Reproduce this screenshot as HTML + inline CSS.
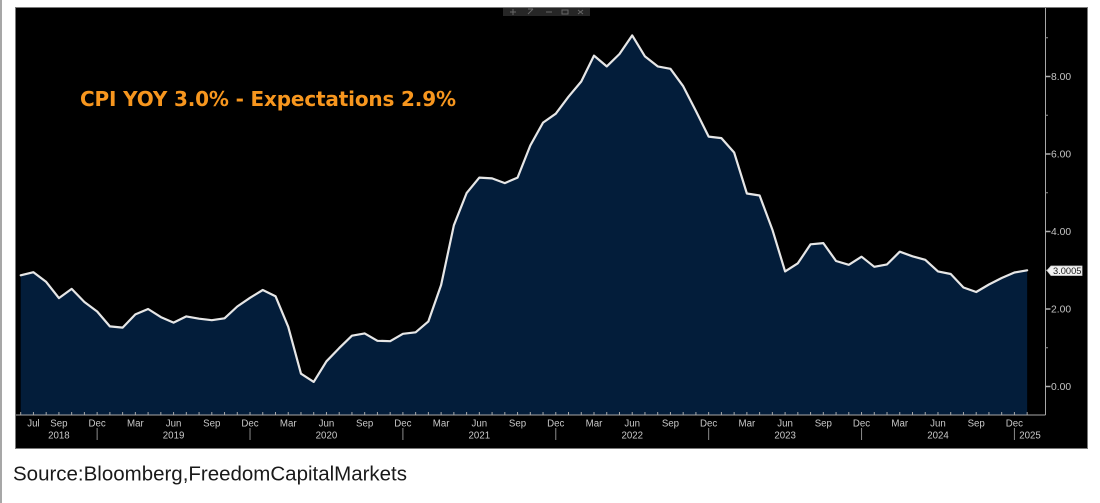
<!DOCTYPE html>
<html>
<head>
<meta charset="utf-8">
<style>
  html,body{margin:0;padding:0;background:#fff;}
  svg{display:block;}
</style>
</head>
<body>
<svg width="1100" height="503" viewBox="0 0 1100 503" xmlns="http://www.w3.org/2000/svg">
  <rect x="0" y="0" width="1100" height="503" fill="#ffffff"/>
  <line x1="1" y1="0" x2="1" y2="503" stroke="#8a8a8a" stroke-width="1.5"/>
  <!-- black chart box -->
  <rect x="15.5" y="7.5" width="1072" height="441" fill="#000000" stroke="#7a7a7a" stroke-width="1"/>
  <!-- toolbar -->
  <rect x="503" y="8" width="87" height="8" fill="#262626"/>
  <g stroke="#666" stroke-width="1" fill="none">
    <path d="M510 12 h6 M513 9 v6"/>
    <path d="M528 14 l5 -5 M528 9 h5"/>
    <path d="M546 12 h6"/>
    <path d="M562 10 h6 v4 h-6 z"/>
    <path d="M578 10 l5 4 M583 10 l-5 4"/>
  </g>

  <!-- area fill -->
  <path fill="#031d3a" d="M20.7,415 L20.7,275.3 L33.44,272.2 L46.18,281.9 L58.92,298.1 L71.66,288.9 L84.4,302 L97.14,311.5 L109.88,326.4 L122.62,327.6 L135.36,314.4 L148.1,309 L160.84,317.1 L173.58,322.6 L186.32,316.4 L199.06,318.7 L211.8,320.2 L224.54,318.3 L237.28,306.5 L250.02,297.8 L262.76,290 L275.5,296.2 L288.24,326.8 L300.98,373.7 L313.72,381.9 L326.46,361.3 L339.2,348.1 L351.94,335.7 L364.68,333.4 L377.42,340.8 L390.16,341.2 L402.9,333.8 L415.64,332.3 L428.38,321.4 L441.12,285 L453.86,225.3 L466.6,193.1 L479.34,177.6 L492.08,178.4 L504.82,183.1 L517.56,177.6 L530.3,145.5 L543.04,122.6 L555.78,113.7 L568.52,96.7 L581.26,81.5 L594,55.6 L606.74,66.4 L619.48,54 L632.22,35.4 L644.96,56.4 L657.7,66.4 L670.44,68.8 L683.18,86.2 L695.92,111 L708.66,136.6 L721.4,138.1 L734.14,152.5 L746.88,193.5 L759.62,195.5 L772.36,229.6 L785.1,271.4 L797.84,263.3 L810.58,244.3 L823.32,243.1 L836.06,261 L848.8,264.8 L861.54,256.7 L874.28,266.8 L887.02,264.4 L899.76,251.7 L912.5,256.3 L925.24,259.8 L937.98,271.4 L950.72,274 L963.46,287.5 L976.2,292 L988.94,284.5 L1001.68,278 L1014.42,272.5 L1027.16,270.3 L1027.16,415 Z"/>
  <!-- line -->
  <polyline fill="none" stroke="#e6e6e6" stroke-width="2.2" stroke-linejoin="round" stroke-linecap="round" points="20.7,275.3 33.44,272.2 46.18,281.9 58.92,298.1 71.66,288.9 84.4,302 97.14,311.5 109.88,326.4 122.62,327.6 135.36,314.4 148.1,309 160.84,317.1 173.58,322.6 186.32,316.4 199.06,318.7 211.8,320.2 224.54,318.3 237.28,306.5 250.02,297.8 262.76,290 275.5,296.2 288.24,326.8 300.98,373.7 313.72,381.9 326.46,361.3 339.2,348.1 351.94,335.7 364.68,333.4 377.42,340.8 390.16,341.2 402.9,333.8 415.64,332.3 428.38,321.4 441.12,285 453.86,225.3 466.6,193.1 479.34,177.6 492.08,178.4 504.82,183.1 517.56,177.6 530.3,145.5 543.04,122.6 555.78,113.7 568.52,96.7 581.26,81.5 594,55.6 606.74,66.4 619.48,54 632.22,35.4 644.96,56.4 657.7,66.4 670.44,68.8 683.18,86.2 695.92,111 708.66,136.6 721.4,138.1 734.14,152.5 746.88,193.5 759.62,195.5 772.36,229.6 785.1,271.4 797.84,263.3 810.58,244.3 823.32,243.1 836.06,261 848.8,264.8 861.54,256.7 874.28,266.8 887.02,264.4 899.76,251.7 912.5,256.3 925.24,259.8 937.98,271.4 950.72,274 963.46,287.5 976.2,292 988.94,284.5 1001.68,278 1014.42,272.5 1027.16,270.3"/>

  <!-- axes -->
  <line x1="16" y1="415" x2="1045.5" y2="415" stroke="#a8a8a8" stroke-width="1"/>
  <line x1="1045.5" y1="8" x2="1045.5" y2="415" stroke="#a8a8a8" stroke-width="1"/>
  <!-- x monthly ticks -->
  <g stroke="#a8a8a8" stroke-width="1">
    <path d="M20.7 412v3 M33.44 412v3 M46.18 412v3 M58.92 412v3 M71.66 412v3 M84.4 412v3 M97.14 412v3 M109.88 412v3 M122.62 412v3 M135.36 412v3 M148.1 412v3 M160.84 412v3 M173.58 412v3 M186.32 412v3 M199.06 412v3 M211.8 412v3 M224.54 412v3 M237.28 412v3 M250.02 412v3 M262.76 412v3 M275.5 412v3 M288.24 412v3 M300.98 412v3 M313.72 412v3 M326.46 412v3 M339.2 412v3 M351.94 412v3 M364.68 412v3 M377.42 412v3 M390.16 412v3 M402.9 412v3 M415.64 412v3 M428.38 412v3 M441.12 412v3 M453.86 412v3 M466.6 412v3 M479.34 412v3 M492.08 412v3 M504.82 412v3 M517.56 412v3 M530.3 412v3 M543.04 412v3 M555.78 412v3 M568.52 412v3 M581.26 412v3 M594 412v3 M606.74 412v3 M619.48 412v3 M632.22 412v3 M644.96 412v3 M657.7 412v3 M670.44 412v3 M683.18 412v3 M695.92 412v3 M708.66 412v3 M721.4 412v3 M734.14 412v3 M746.88 412v3 M759.62 412v3 M772.36 412v3 M785.1 412v3 M797.84 412v3 M810.58 412v3 M823.32 412v3 M836.06 412v3 M848.8 412v3 M861.54 412v3 M874.28 412v3 M887.02 412v3 M899.76 412v3 M912.5 412v3 M925.24 412v3 M937.98 412v3 M950.72 412v3 M963.46 412v3 M976.2 412v3 M988.94 412v3 M1001.68 412v3 M1014.42 412v3 M1027.16 412v3"/>
    <!-- year separators -->
    <path d="M97.14 428v12 M250.02 428v12 M402.9 428v12 M555.78 428v12 M708.66 428v12 M861.54 428v12 M1014.42 428v12" stroke="#8a8a8a"/>
  </g>
  <!-- x labels -->
  <g font-family="'Liberation Sans', sans-serif" font-size="9.7" fill="#c8c8c8" text-anchor="middle">
    <text x="33.44" y="426.5">Jul</text>
    <text x="58.92" y="426.5">Sep</text>
    <text x="97.14" y="426.5">Dec</text>
    <text x="135.36" y="426.5">Mar</text>
    <text x="173.58" y="426.5">Jun</text>
    <text x="211.8" y="426.5">Sep</text>
    <text x="250.02" y="426.5">Dec</text>
    <text x="288.24" y="426.5">Mar</text>
    <text x="326.46" y="426.5">Jun</text>
    <text x="364.68" y="426.5">Sep</text>
    <text x="402.9" y="426.5">Dec</text>
    <text x="441.12" y="426.5">Mar</text>
    <text x="479.34" y="426.5">Jun</text>
    <text x="517.56" y="426.5">Sep</text>
    <text x="555.78" y="426.5">Dec</text>
    <text x="594" y="426.5">Mar</text>
    <text x="632.22" y="426.5">Jun</text>
    <text x="670.44" y="426.5">Sep</text>
    <text x="708.66" y="426.5">Dec</text>
    <text x="746.88" y="426.5">Mar</text>
    <text x="785.1" y="426.5">Jun</text>
    <text x="823.32" y="426.5">Sep</text>
    <text x="861.54" y="426.5">Dec</text>
    <text x="899.76" y="426.5">Mar</text>
    <text x="937.98" y="426.5">Jun</text>
    <text x="976.2" y="426.5">Sep</text>
    <text x="1014.42" y="426.5">Dec</text>
    <text x="58.92" y="438.3">2018</text>
    <text x="173.58" y="438.3">2019</text>
    <text x="326.46" y="438.3">2020</text>
    <text x="479.34" y="438.3">2021</text>
    <text x="632.22" y="438.3">2022</text>
    <text x="785.1" y="438.3">2023</text>
    <text x="937.98" y="438.3">2024</text>
    <text x="1030" y="438.3">2025</text>
  </g>

  <!-- y ticks -->
  <g stroke="#b0b0b0" stroke-width="1.5">
    <path d="M1045.5 386.5h5 M1045.5 309h5 M1045.5 231.5h5 M1045.5 154h5 M1045.5 76.5h5"/>
  </g>
  <g stroke="#909090" stroke-width="1">
    <path d="M1045.5 347.75h2.5 M1045.5 270.25h2.5 M1045.5 192.75h2.5 M1045.5 115.25h2.5 M1045.5 37.75h2.5"/>
  </g>
  <g font-family="'Liberation Sans', sans-serif" font-size="10.3" fill="#c4c4c4">
    <text x="1051" y="390.2">0.00</text>
    <text x="1051" y="312.7">2.00</text>
    <text x="1051" y="235.2">4.00</text>
    <text x="1051" y="157.7">6.00</text>
    <text x="1051" y="80.2">8.00</text>
  </g>
  <!-- last value box -->
  <path d="M1047 270.5 L1051 266 L1082 266 L1082 275.5 L1051 275.5 Z" fill="#f2f2f2" stroke="#cfcfcf" stroke-width="0.8"/>
  <text x="1053" y="274" font-family="'Liberation Sans', sans-serif" font-size="9.3" fill="#1a1a1a">3.0005</text>

  <!-- title -->
  <text x="80" y="106" font-family="'DejaVu Sans', 'Liberation Sans', sans-serif" font-weight="bold" font-size="20" fill="#f7961e" textLength="376" lengthAdjust="spacing">CPI YOY 3.0% - Expectations 2.9%</text>

  <!-- source -->
  <text x="13" y="480.5" font-family="'Liberation Sans', sans-serif" font-size="20.5" fill="#1a1a1a" textLength="394" lengthAdjust="spacing">Source:Bloomberg,FreedomCapitalMarkets</text>
</svg>
</body>
</html>
